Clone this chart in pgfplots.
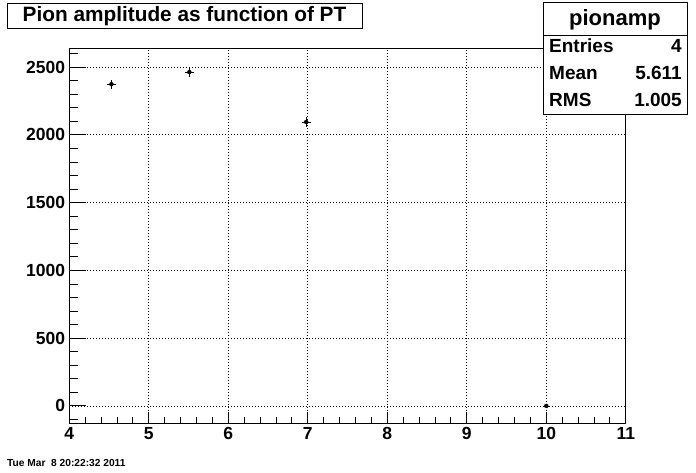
\documentclass[border=0pt]{standalone}
\usepackage{fontspec}
\setmainfont{Liberation Sans}
\usepackage{pgfplots}
\pgfplotsset{compat=1.18}
\pgfplotstableread{
x y ex ey
4.53 2374 0.055 34
5.51 2463 0.055 34
6.98 2095 0.055 34
10.0 0 0.04 12
}\pionamp
\begin{document}
\begin{tikzpicture}[x=1pt,y=1pt]
\path[use as bounding box] (0,0) rectangle (696,472);
\pgfplotsset{
  rootaxis/.style={
    at={(69.3pt,49pt)}, anchor=south west, scale only axis,
    width=556.5pt, height=375pt,
    xmin=4, xmax=11, ymin=-126, ymax=2641,
    axis line style={black, line width=0.9pt},
    tick style={black, line width=0.9pt},
    tick align=inside,
    grid style={black, line width=0.8pt, dash pattern=on 0.9pt off 2.1pt},
    /pgf/number format/assume math mode=true,
    /pgf/number format/set thousands separator={},
    ticklabel style={font=\fontsize{17.5}{20}\selectfont\bfseries, inner sep=0pt},
  }
}
% x-axis ticks, labels and vertical grid
\begin{axis}[rootaxis,
  xtick={4,...,11}, minor x tick num=4, xtick pos=bottom,
  ytick=\empty,
  major tick length=11.2pt, minor tick length=5.6pt,
  xmajorgrids,
  xticklabel style={anchor=north, yshift=-4pt},
]
\addplot[draw=none, forget plot] coordinates {(4,0)};
\end{axis}
% y-axis ticks, labels, horizontal grid and data
\begin{axis}[rootaxis,
  xtick=\empty,
  ytick={0,500,...,2500}, ytick pos=left,
  minor ytick={-100,100,200,300,400,600,700,800,900,1100,1200,1300,1400,1600,1700,1800,1900,2100,2200,2300,2400,2600},
  major tick length=16.7pt, minor tick length=8.3pt,
  ymajorgrids,
  yticklabel style={anchor=east, xshift=-4pt},
]
\addplot[only marks, mark=none,
  error bars/.cd, x dir=both, x explicit, y dir=both, y explicit,
  error bar style={black, line width=0.8pt, solid}, error mark=none]
  table[x=x, y=y, x error=ex, y error=ey] {\pionamp};
\end{axis}
% title box
\draw[line width=0.9pt, fill=white] (7,444) rectangle (362,469);
\node[anchor=base, inner sep=0pt] at (184.5,450) {\fontsize{20.8}{24}\selectfont\bfseries Pion amplitude as function of PT};
% stats box
\draw[line width=0.9pt, fill=white] (543,358) rectangle (687,470);
\draw[line width=0.9pt] (543,437) -- (687,437);
\node[anchor=base, inner sep=0pt] at (615,446) {\fontsize{22}{26}\selectfont\bfseries pionamp};
\node[anchor=base west, inner sep=0pt] at (549,419) {\fontsize{19}{22}\selectfont\bfseries Entries};
\node[anchor=base east, inner sep=0pt] at (682,419) {\fontsize{19}{22}\selectfont\bfseries 4};
\node[anchor=base west, inner sep=0pt] at (549,392) {\fontsize{19}{22}\selectfont\bfseries Mean};
\node[anchor=base east, inner sep=0pt] at (682,392) {\fontsize{19}{22}\selectfont\bfseries 5.611};
\node[anchor=base west, inner sep=0pt] at (549,365) {\fontsize{19}{22}\selectfont\bfseries RMS};
\node[anchor=base east, inner sep=0pt] at (682,365) {\fontsize{19}{22}\selectfont\bfseries 1.005};
% date stamp
\node[anchor=base west, inner sep=0pt] at (7,5.5) {\fontsize{10.2}{12}\selectfont\bfseries Tue Mar\ \ 8 20:22:32 2011};
\end{tikzpicture}
\end{document}
